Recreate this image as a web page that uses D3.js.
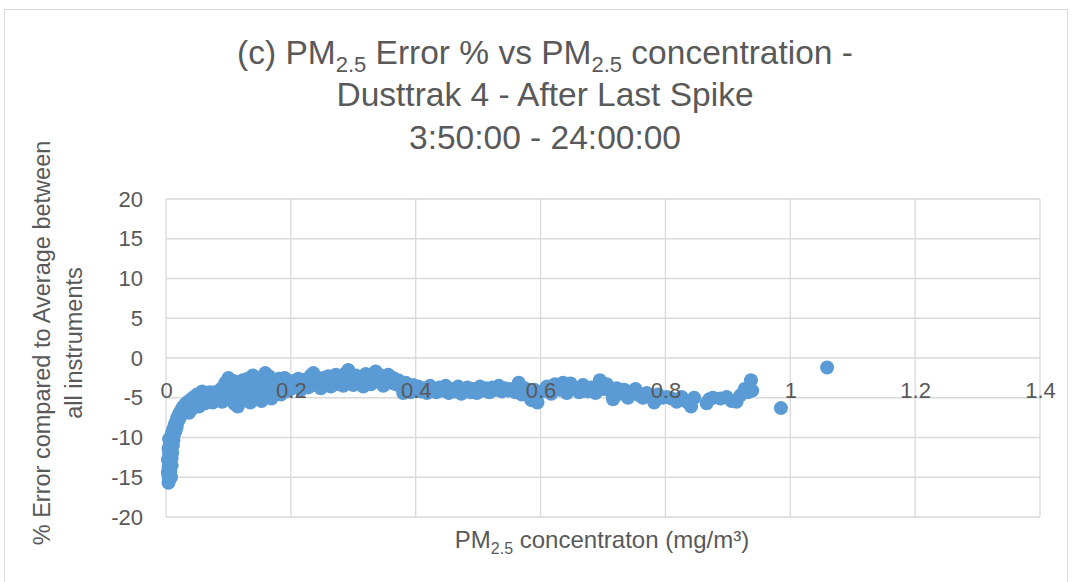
<!DOCTYPE html>
<html>
<head>
<meta charset="utf-8">
<script src="https://cdn.jsdelivr.net/npm/d3@7"></script>
<style>
  body { margin: 0; background: #fff; }
  text { font-family: "Liberation Sans", Arial, sans-serif; fill: #595959; }
</style>
</head>
<body>
<div id="chart"></div>
<script>
// Chart values: [PM2.5 concentration (mg/m3), % error]
var steepRise = [
  [0.004,-15.7],[0.005,-15.3],[0.004,-14.9],[0.006,-14.5],[0.005,-14.1],[0.004,-13.7],
  [0.006,-13.3],[0.005,-12.9],[0.007,-12.5],[0.005,-12.1],[0.006,-11.7],[0.008,-11.3],
  [0.006,-10.9],[0.008,-10.5],[0.007,-10.1],[0.009,-9.7],[0.010,-9.3],[0.008,-15.0],
  [0.007,-14.2],[0.009,-13.5],[0.009,-12.6],[0.010,-11.9],[0.011,-11.0],[0.012,-10.3],
  [0.013,-9.6],[0.012,-8.9],[0.014,-8.4],[0.015,-9.2],[0.016,-8.0],[0.017,-8.7],
  [0.018,-7.5],[0.020,-7.9],[0.021,-7.0],[0.023,-7.4],[0.024,-6.6],[0.026,-6.9],
  [0.027,-6.2],[0.029,-6.6],[0.031,-5.8],[0.033,-6.3],[0.035,-5.5],[0.037,-6.9],
  [0.040,-5.2],[0.042,-6.4],[0.003,-14.4],[0.003,-12.8],[0.004,-11.4],[0.005,-10.2]
];

var lowBand = [
  [0.045,-4.9],[0.048,-5.8],[0.050,-4.6],[0.053,-6.1],[0.055,-5.3],[0.058,-4.2],
  [0.060,-5.0],[0.063,-5.7],[0.065,-4.4],[0.068,-5.2],[0.070,-4.3],[0.072,-4.8],
  [0.075,-5.6],[0.078,-4.3],[0.080,-4.5],[0.082,-5.1],[0.085,-4.6],[0.088,-3.9],
  [0.090,-5.5],[0.092,-4.1],[0.095,-3.1],[0.097,-4.8],[0.100,-2.5],[0.102,-3.6],
  [0.104,-5.3],[0.106,-4.2],[0.108,-2.9],[0.110,-5.8],[0.112,-3.8],[0.115,-6.1],
  [0.117,-4.5],[0.119,-3.2],[0.121,-5.4],[0.123,-2.8],[0.125,-4.0],[0.127,-5.0],
  [0.129,-3.5],[0.131,-2.6],[0.133,-4.7],[0.135,-5.6],[0.137,-3.0],[0.139,-2.2],
  [0.141,-4.3],[0.143,-5.2],[0.145,-3.7],[0.147,-2.7],[0.149,-4.9],[0.151,-3.3],
  [0.153,-5.4],[0.155,-2.4],[0.157,-4.1],[0.159,-1.9],[0.161,-3.0],[0.163,-4.6],
  [0.165,-2.3],[0.167,-3.8],[0.169,-5.1],[0.172,-2.8],[0.175,-4.3],[0.178,-3.4],
  [0.181,-2.6],[0.184,-4.6],[0.187,-3.6],[0.190,-2.5],[0.193,-4.2],[0.196,-3.1]
];

var midBand = [
  [0.200,-3.9],[0.204,-2.9],[0.208,-3.5],[0.212,-2.6],[0.216,-4.0],[0.220,-3.2],
  [0.224,-2.7],[0.228,-3.7],[0.232,-2.2],[0.236,-1.9],[0.240,-3.4],[0.244,-2.8],
  [0.248,-3.8],[0.252,-2.5],[0.256,-3.1],[0.260,-2.3],[0.264,-3.6],[0.268,-2.9],
  [0.272,-2.1],[0.276,-3.3],[0.280,-2.6],[0.284,-3.5],[0.288,-1.9],[0.292,-1.5],
  [0.296,-2.7],[0.300,-3.4],[0.304,-2.2],[0.308,-3.0],[0.312,-2.5],[0.316,-3.6],
  [0.320,-2.0],[0.324,-2.8],[0.328,-3.3],[0.332,-2.4],[0.336,-1.7],[0.340,-3.0],
  [0.344,-2.2],[0.348,-3.5],[0.352,-2.6],[0.356,-2.1],[0.360,-3.1],[0.364,-2.5],
  [0.368,-3.3],[0.372,-2.8],[0.376,-3.6],[0.380,-4.4],[0.384,-3.1],[0.388,-3.9],
  [0.392,-4.3],[0.396,-3.4],[0.400,-4.0]
];

var plateau = [
  [0.404,-3.6],[0.408,-4.2],[0.413,-3.8],[0.418,-4.4],[0.423,-3.5],[0.428,-4.0],
  [0.433,-4.3],[0.438,-3.7],[0.443,-4.1],[0.448,-3.5],[0.453,-4.4],[0.458,-3.9],
  [0.463,-4.2],[0.468,-3.6],[0.473,-4.5],[0.478,-4.0],[0.483,-3.7],[0.488,-4.3],
  [0.493,-3.9],[0.498,-4.4],[0.503,-3.6],[0.508,-4.1],[0.513,-3.8],[0.518,-4.3],
  [0.523,-3.7],[0.528,-4.0],[0.533,-3.5],[0.538,-4.2],[0.543,-3.8],[0.548,-4.1],
  [0.553,-3.9],[0.560,-4.3],[0.565,-3.1],[0.570,-4.6],[0.575,-3.8],[0.580,-4.4],
  [0.585,-5.3],[0.590,-4.0],[0.595,-5.6]
];

var highBand = [
  [0.603,-4.2],[0.610,-3.6],[0.617,-4.5],[0.623,-3.3],[0.630,-4.0],[0.636,-3.1],
  [0.642,-4.4],[0.648,-3.2],[0.655,-3.9],[0.662,-4.3],[0.668,-3.4],[0.675,-4.2],
  [0.681,-3.7],[0.688,-4.4],[0.695,-2.8],[0.700,-3.9],[0.706,-3.3],[0.712,-4.2],
  [0.716,-5.2],[0.722,-3.8],[0.728,-4.5],[0.734,-4.0],[0.740,-5.0],[0.746,-4.3],
  [0.752,-3.9],[0.758,-4.7],[0.764,-5.0],[0.770,-4.4],[0.776,-4.8],[0.782,-5.6],
  [0.788,-4.6],[0.795,-5.0],[0.802,-4.9],[0.810,-5.1],[0.818,-5.5],[0.826,-4.9],
  [0.834,-5.5],[0.841,-6.1],[0.846,-5.0],[0.866,-5.7],[0.870,-5.2],[0.876,-5.0],
  [0.888,-5.1],[0.898,-4.9],[0.906,-5.4],[0.914,-5.5],[0.920,-4.7],[0.927,-3.9],
  [0.932,-4.3],[0.937,-2.8],[0.939,-4.1],[0.985,-6.3],[1.059,-1.2]
];

var xTicks = [0, 0.2, 0.4, 0.6, 0.8, 1, 1.2, 1.4];
var yTicks = [-20, -15, -10, -5, 0, 5, 10, 15, 20];
var titleLines = ["Dusttrak 4 - After Last Spike", "3:50:00 - 24:00:00"];

var points = [].concat(steepRise, lowBand, midBand, plateau, highBand);

// Basic setup
var width = 1075,
    height = 582,
    plot = { left: 166, right: 1040, top: 199, bottom: 517 };

var svg = d3.select("#chart").append("svg")
    .attr("width", width)
    .attr("height", height);

svg.append("rect")
    .attr("x", 4.5).attr("y", 9.5)
    .attr("width", 1063).attr("height", 580)
    .attr("fill", "#fff")
    .attr("stroke", "#d9d9d9");

var x = d3.scaleLinear().domain([0, 1.4]).range([plot.left, plot.right]);
var y = d3.scaleLinear().domain([-20, 20]).range([plot.bottom, plot.top]);

// Gridlines
svg.append("g").selectAll("line.h")
    .data(yTicks)
  .enter().append("line")
    .attr("x1", plot.left).attr("x2", plot.right)
    .attr("y1", function(d) { return y(d); })
    .attr("y2", function(d) { return y(d); })
    .attr("stroke", "#d9d9d9").attr("stroke-width", 1.3);

svg.append("g").selectAll("line.v")
    .data(xTicks)
  .enter().append("line")
    .attr("y1", plot.top).attr("y2", plot.bottom)
    .attr("x1", function(d) { return x(d); })
    .attr("x2", function(d) { return x(d); })
    .attr("stroke", "#d9d9d9").attr("stroke-width", 1.3);

// Points
svg.append("g").selectAll("circle")
    .data(points)
  .enter().append("circle")
    .attr("cx", function(d) { return x(d[0]); })
    .attr("cy", function(d) { return y(d[1]); })
    .attr("r", 7)
    .attr("fill", "#5b9bd5");

// Axes (labels only, drawn on top of the points like Excel)
svg.append("g")
    .attr("transform", "translate(" + plot.left + ",0)")
    .call(d3.axisLeft(y).tickValues(yTicks).tickSize(0).tickPadding(23)
      .tickFormat(function(d) { return String(d); }));

svg.append("g")
    .attr("transform", "translate(0," + y(0) + ")")
    .call(d3.axisBottom(x).tickValues(xTicks).tickSize(0).tickPadding(24)
      .tickFormat(function(d) { return String(d); }));

svg.selectAll(".domain").remove();
svg.selectAll(".tick text")
    .attr("font-family", null)
    .style("font-size", "22px")
    .style("fill", "#595959");

// Title
var title = svg.append("text")
    .attr("x", 545).attr("y", 64)
    .attr("text-anchor", "middle")
    .style("font-size", "33.5px");
title.append("tspan").text("(c) PM");
title.append("tspan").attr("dy", 8).style("font-size", "22px").text("2.5");
title.append("tspan").attr("dy", -8).text(" Error % vs PM");
title.append("tspan").attr("dy", 8).style("font-size", "22px").text("2.5");
title.append("tspan").attr("dy", -8).text(" concentration -");

svg.selectAll("text.title2")
    .data(titleLines)
  .enter().append("text")
    .attr("class", "title2")
    .attr("x", 545)
    .attr("y", function(d, i) { return 106 + i * 43; })
    .attr("text-anchor", "middle")
    .style("font-size", "33.5px")
    .text(function(d) { return d; });

// Axis titles
var xTitle = svg.append("text")
    .attr("x", 602).attr("y", 548)
    .attr("text-anchor", "middle")
    .style("font-size", "24px");
xTitle.append("tspan").text("PM");
xTitle.append("tspan").attr("dy", 6).style("font-size", "16px").text("2.5");
xTitle.append("tspan").attr("dy", -6).text(" concentraton (mg/m³)");

svg.append("text")
    .attr("transform", "translate(50,343) rotate(-90)")
    .attr("text-anchor", "middle")
    .style("font-size", "23.5px")
    .text("% Error compared to Average between");

svg.append("text")
    .attr("transform", "translate(82,343) rotate(-90)")
    .attr("text-anchor", "middle")
    .style("font-size", "23.5px")
    .text("all instruments");
</script>
</body>
</html>
